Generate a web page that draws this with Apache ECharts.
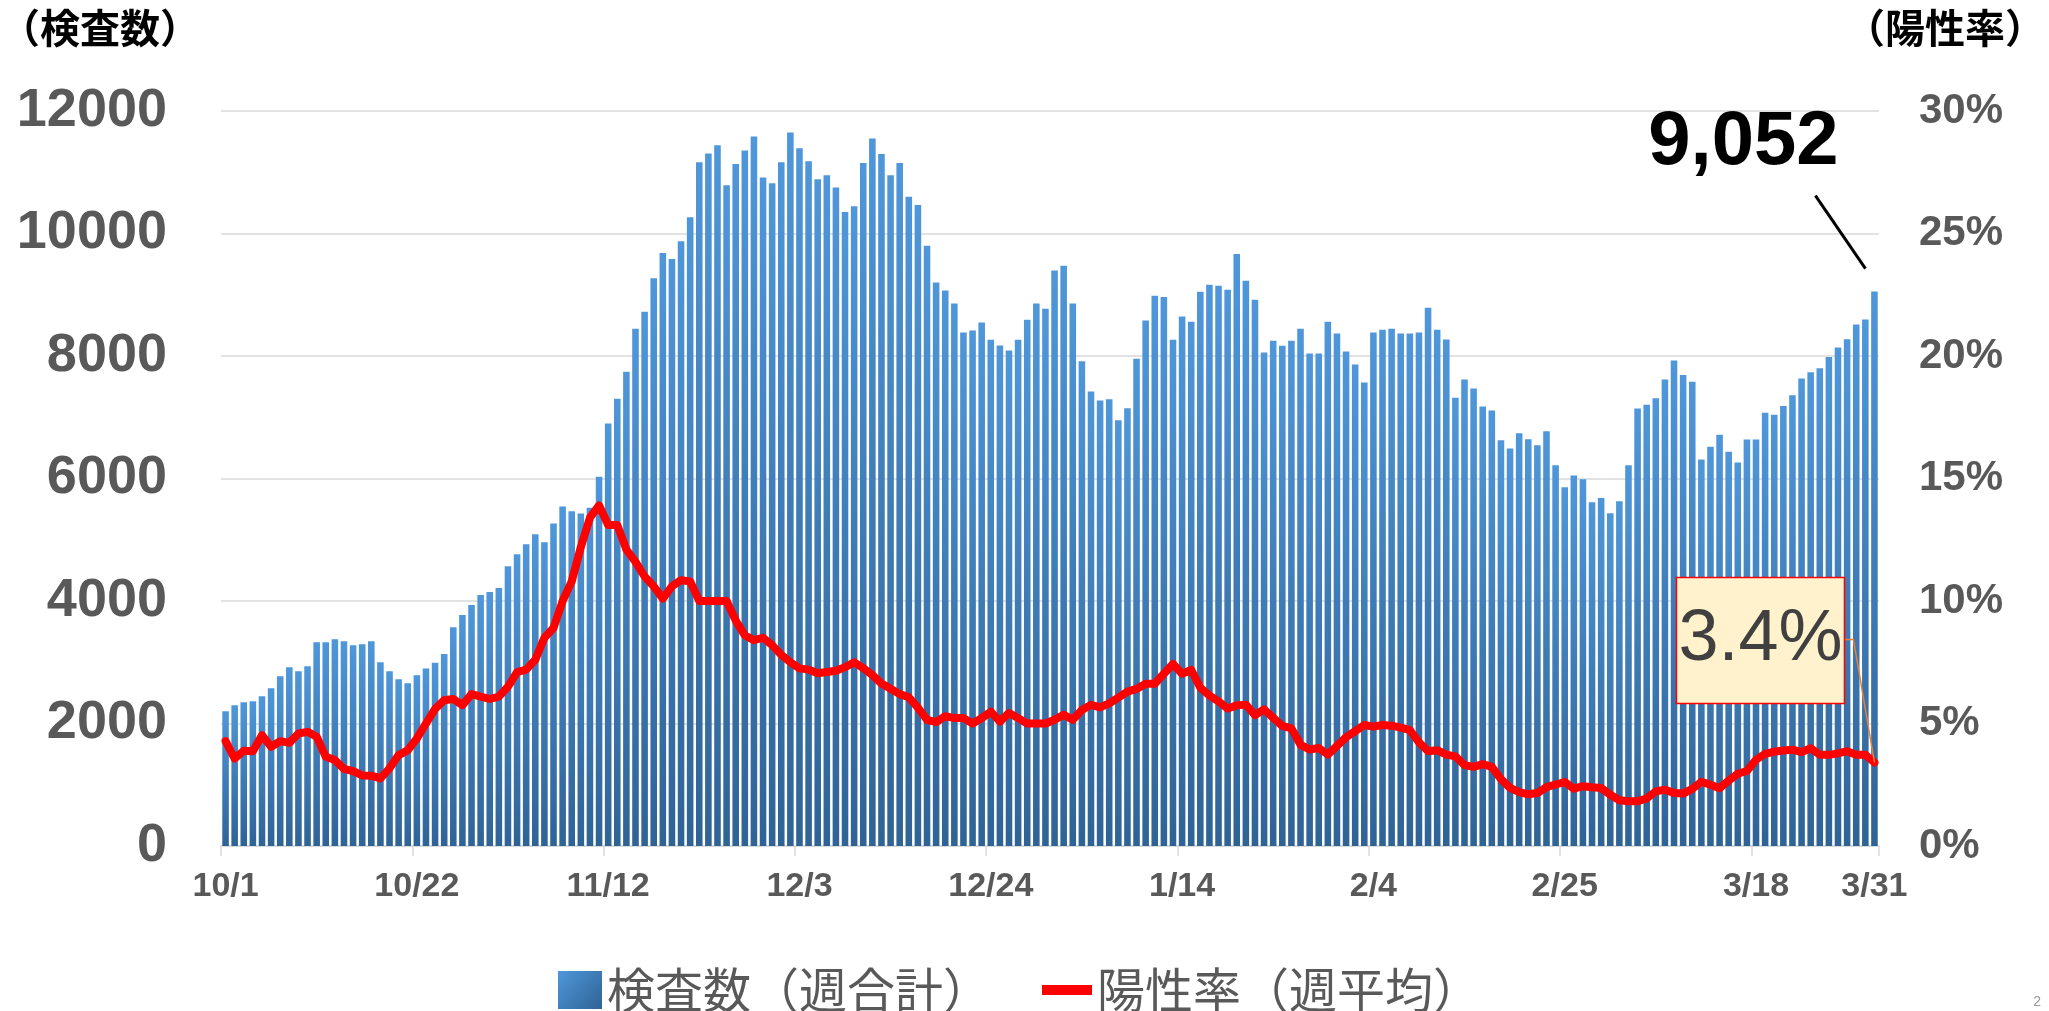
<!DOCTYPE html>
<html>
<head>
<meta charset="utf-8">
<script src="https://cdn.jsdelivr.net/npm/echarts@6/dist/echarts.min.js"></script>
<style>
html,body{margin:0;padding:0;background:#fff;}
#chart{width:2049px;height:1011px;}
</style>
</head>
<body>
<div id="chart"></div>
<script>
// ---- data ----
const categories = [];
for (let d = new Date(2020, 9, 1); d <= new Date(2021, 2, 31); d.setDate(d.getDate() + 1)) {
  categories.push((d.getMonth() + 1) + '/' + d.getDate());
}
const testCounts = [
  2201,2299,2348,2364,2446,2576,2772,2918,2853,2935,
  3326,3326,3375,3342,3277,3293,3342,3000,2853,2723,
  2658,2788,2900,2990,3133,3572,3771,3934,4096,4145,
  4211,4566,4765,4928,5090,4958,5265,5542,5464,5428,
  5524,6030,6898,7301,7741,8446,8723,9271,9681,9584,
  9873,10265,11163,11307,11440,10789,11133,11355,11584,10916,
  10819,11163,11651,11392,11181,10886,10952,10753,10349,10446,
  11150,11550,11300,10950,11150,10600,10466,9798,9198,9069,
  8856,8385,8418,8547,8267,8172,8088,8267,8592,8856,
  8772,9394,9473,8856,7914,7420,7273,7293,6952,7145,
  7955,8579,8984,8965,8264,8643,8559,9048,9164,9145,
  9080,9666,9228,8920,8058,8251,8167,8251,8444,8039,
  8039,8560,8366,8074,7863,7566,8383,8429,8446,8366,
  8366,8383,8789,8429,8269,7320,7617,7469,7177,7109,
  6623,6491,6737,6640,6543,6771,6217,5857,6051,5989,
  5611,5680,5434,5629,6217,7143,7206,7309,7617,7926,
  7690,7580,6310,6520,6715,6435,6260,6635,6635,7075,
  7040,7184,7359,7633,7733,7799,7982,8140,8272,8513,
  8596,9052
];
const positiveRate = [
  4.28,3.57,3.89,3.87,4.52,4.05,4.28,4.21,4.59,4.66,
  4.46,3.64,3.51,3.15,3.06,2.88,2.87,2.76,3.17,3.71,
  3.91,4.39,5.0,5.6,5.95,6.0,5.75,6.2,6.1,6.0,
  6.1,6.5,7.1,7.2,7.6,8.5,8.9,10.0,10.8,12.2,
  13.4,13.9,13.1,13.1,12.1,11.6,11.0,10.6,10.1,10.6,
  10.85,10.8,10.0,10.0,10.0,10.0,9.2,8.6,8.4,8.5,
  8.2,7.8,7.5,7.25,7.2,7.05,7.1,7.15,7.3,7.5,
  7.26,6.98,6.63,6.42,6.2,6.07,5.65,5.15,5.06,5.3,
  5.22,5.22,5.0,5.22,5.48,5.08,5.43,5.22,5.0,5.0,
  5.0,5.15,5.36,5.15,5.55,5.76,5.66,5.82,6.06,6.3,
  6.41,6.62,6.62,7.03,7.43,7.03,7.19,6.46,6.14,5.9,
  5.61,5.74,5.77,5.34,5.58,5.23,4.9,4.8,4.13,3.94,
  4.0,3.73,4.09,4.44,4.69,4.94,4.87,4.94,4.91,4.83,
  4.73,4.23,3.87,3.91,3.73,3.66,3.3,3.23,3.34,3.23,
  2.73,2.37,2.2,2.11,2.16,2.4,2.51,2.61,2.34,2.44,
  2.4,2.37,2.09,1.87,1.83,1.83,1.94,2.23,2.3,2.16,
  2.14,2.33,2.62,2.5,2.36,2.67,2.95,3.06,3.52,3.76,
  3.85,3.9,3.93,3.83,3.99,3.72,3.72,3.78,3.87,3.72,
  3.72,3.41
];
const seriesNames = ['検査数（週合計）', '陽性率（週平均）'];
const axisTitles = ['（検査数）', '（陽性率）'];
const leftTicks = { min: 0, max: 12000, interval: 2000 };
const rightTicks = { min: 0, max: 30, interval: 5 };
const labelStep = 21;
const lastCountLabel = '9,052';
const lastRateLabel = '3.4%';

// ---- chart ----
const chart = echarts.init(document.getElementById('chart'));
const numFont = "'Liberation Sans', Arial, sans-serif";
const cjkFont = "'Noto Sans CJK JP', sans-serif";
const lastIdx = categories.length - 1;
const showLabel = (i) => i % labelStep === 0 || i === lastIdx;

const baseGraphic = [
  { type: 'text', left: 0, top: 8, style: { text: axisTitles[0], font: "bold 40px 'Noto Sans CJK JP'", fill: '#000000' } },
  { type: 'text', right: 4, top: 8, style: { text: axisTitles[1], font: "bold 40px 'Noto Sans CJK JP'", fill: '#000000' } },
  { type: 'text', right: 8, bottom: 2, style: { text: '2', font: "14px 'Liberation Sans'", fill: '#999999' } }
];

chart.setOption({
  animation: false,
  backgroundColor: '#ffffff',
  grid: { left: 221, right: 170, top: 111, bottom: 165, containLabel: false },
  legend: [
    {
      data: [seriesNames[0]], left: 553, top: 961, icon: 'rect',
      itemWidth: 44, itemHeight: 38, selectedMode: false,
      textStyle: { fontFamily: cjkFont, fontSize: 48, color: '#595959' }
    },
    {
      data: [seriesNames[1]], left: 1037, top: 961, icon: 'rect',
      itemWidth: 50, itemHeight: 10, selectedMode: false,
      textStyle: { fontFamily: cjkFont, fontSize: 48, color: '#595959' }
    }
  ],
  xAxis: {
    type: 'category', data: categories, boundaryGap: true,
    axisLine: { lineStyle: { color: '#D9D9D9', width: 1.5 } },
    axisTick: { show: true, interval: (i) => i % labelStep === 0, length: 10, lineStyle: { color: '#D9D9D9', width: 1.5 } },
    axisLabel: { interval: showLabel, fontFamily: numFont, fontSize: 34, fontWeight: 'bold', color: '#595959', margin: 24 }
  },
  yAxis: [
    {
      type: 'value', min: leftTicks.min, max: leftTicks.max, interval: leftTicks.interval,
      axisLine: { show: false }, axisTick: { show: false },
      axisLabel: { formatter: (v) => String(v), fontFamily: numFont, fontSize: 54, fontWeight: 'bold', color: '#595959', margin: 54 },
      splitLine: { lineStyle: { color: '#D9D9D9', width: 1.5 } }
    },
    {
      type: 'value', min: rightTicks.min, max: rightTicks.max, interval: rightTicks.interval,
      axisLine: { show: false }, axisTick: { show: false }, splitLine: { show: false },
      axisLabel: { formatter: '{value}%', fontFamily: numFont, fontSize: 42, fontWeight: 'bold', color: '#595959', margin: 40 }
    }
  ],
  series: [
    {
      name: seriesNames[0], type: 'bar', data: testCounts, barCategoryGap: '28%',
      itemStyle: {
        color: new echarts.graphic.LinearGradient(0, 0, 1, 1, [
          { offset: 0, color: '#4F97DA' },
          { offset: 1, color: '#2F6396' }
        ])
      }
    },
    {
      name: seriesNames[1], type: 'line', yAxisIndex: 1, data: positiveRate,
      symbol: 'none', z: 5, color: '#FF0000',
      lineStyle: { color: '#FF0000', width: 8, cap: 'round', join: 'round' }
    }
  ],
  graphic: baseGraphic
});

// annotations anchored to the last data points via the chart's own scales
const pBar = chart.convertToPixel({ xAxisIndex: 0, yAxisIndex: 0 }, [lastIdx, testCounts[lastIdx]]);
const pLine = chart.convertToPixel({ xAxisIndex: 0, yAxisIndex: 1 }, [lastIdx, positiveRate[lastIdx]]);
const boxW = 168, boxH = 126;
const boxX = pLine[0] - 198, boxY = pLine[1] - 185;
chart.setOption({
  graphic: baseGraphic.concat([
    {
      type: 'text', x: pBar[0] - 131, y: pBar[1] - 149, z: 20,
      style: { text: lastCountLabel, font: "bold 76px 'Liberation Sans'", fill: '#000000', textAlign: 'center', textVerticalAlign: 'middle' }
    },
    {
      type: 'line', z: 20,
      shape: { x1: pBar[0] - 59, y1: pBar[1] - 96, x2: pBar[0] - 9, y2: pBar[1] - 23 },
      style: { stroke: '#000000', lineWidth: 3 }
    },
    {
      type: 'polyline', z: 20,
      shape: { points: [[boxX + boxW, boxY + 62], [boxX + boxW + 9, boxY + 62], [pLine[0], pLine[1]]] },
      style: { stroke: '#ED7D31', lineWidth: 1.5, fill: null }
    },
    {
      type: 'rect', z: 20,
      shape: { x: boxX, y: boxY, width: boxW, height: boxH },
      style: { fill: '#FFF2CC', stroke: '#FF0000', lineWidth: 1.5 }
    },
    {
      type: 'text', z: 21, x: boxX + boxW / 2, y: boxY + boxH / 2,
      style: { text: lastRateLabel, font: "500 72px 'Liberation Sans'", fill: '#404040', textAlign: 'center', textVerticalAlign: 'middle' }
    }
  ])
}, { replaceMerge: ['graphic'] });
</script>
</body>
</html>
